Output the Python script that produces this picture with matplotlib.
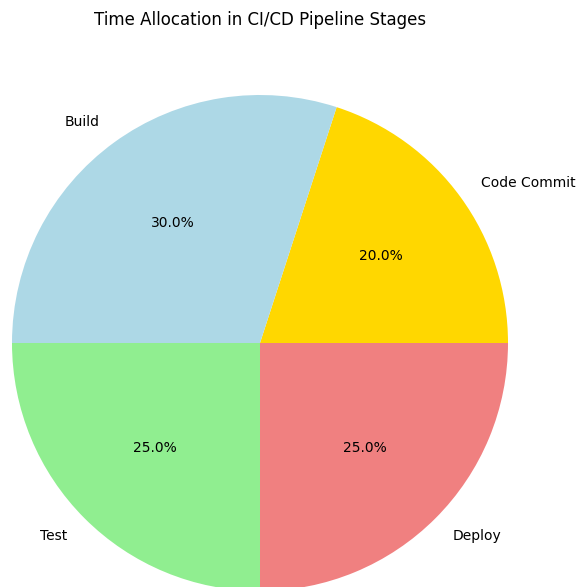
import matplotlib
matplotlib.use("Agg")
import matplotlib.pyplot as plt

# pipeline stages and share of time spent in each
stages = ["Code Commit", "Build", "Test", "Deploy"]
shares = [20, 30, 25, 25]
colors = ["gold", "lightblue", "lightgreen", "lightcoral"]

W, H = 577, 587
fig = plt.figure(figsize=(W / 100, H / 100), dpi=100)

# axes placed so the pie sits slightly off the bottom edge
cx, cy, r = 260, 343, 248
ax = fig.add_axes([(cx - r) / W, (H - cy - r) / H, 2 * r / W, 2 * r / H])
wedges, texts, autotexts = ax.pie(shares, labels=stages, colors=colors,
                                  autopct="%1.1f%%", startangle=0)
ax.set_xlim(-1, 1)
ax.set_ylim(-1, 1)
ax.set_aspect("equal")
for t in texts + autotexts:
    t.set_clip_on(False)

fig.text(cx / W, 1 - 20 / H, "Time Allocation in CI/CD Pipeline Stages",
         ha="center", va="center", fontsize=12)

fig.savefig("out.png", dpi=100)
